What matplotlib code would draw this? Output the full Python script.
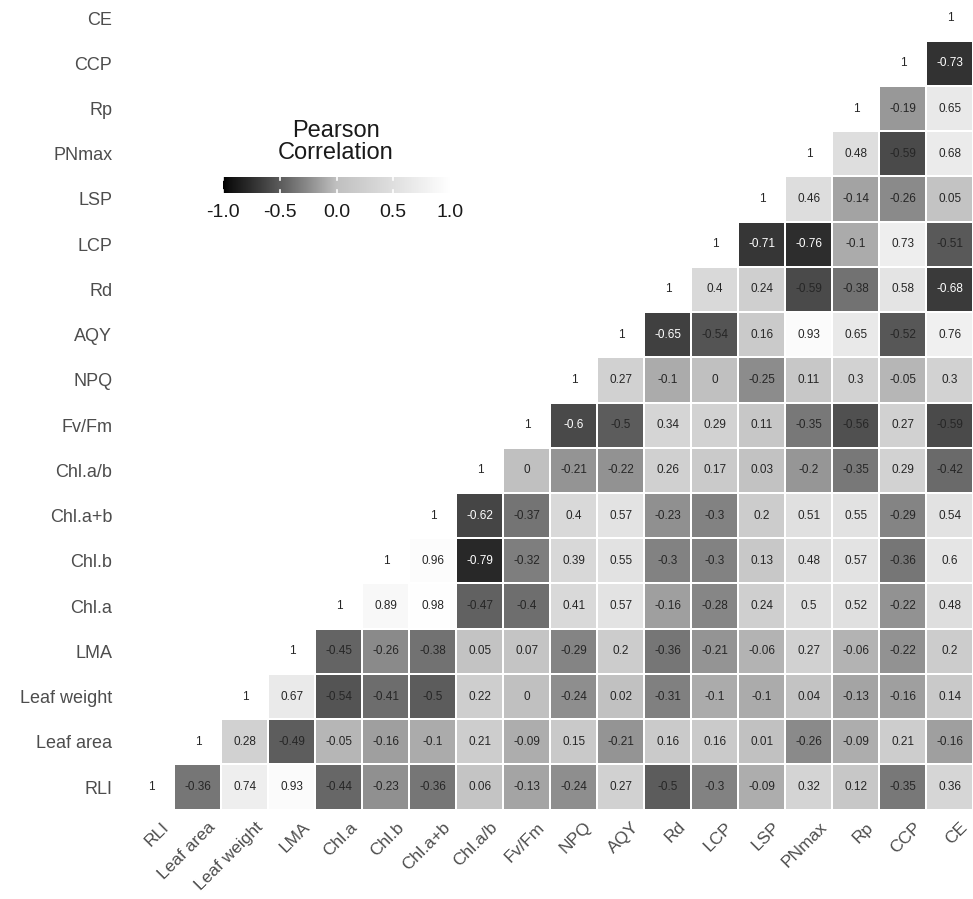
import matplotlib
matplotlib.use('Agg')
import matplotlib.pyplot as plt
import numpy as np
from matplotlib.colors import ListedColormap
from matplotlib.transforms import ScaledTranslation


plt.rcParams['font.family'] = ['Liberation Sans', 'DejaVu Sans']

variables = ['RLI', 'Leaf area', 'Leaf weight', 'LMA', 'Chl.a', 'Chl.b',
             'Chl.a+b', 'Chl.a/b', 'Fv/Fm', 'NPQ', 'AQY', 'Rd', 'LCP', 'LSP',
             'PNmax', 'Rp', 'CCP', 'CE']

# Upper triangle of the Pearson matrix, each row starting on the diagonal.
r_rli = [1, -0.36, 0.74, 0.93, -0.44, -0.23, -0.36, 0.06, -0.13, -0.24, 0.27,
         -0.5, -0.3, -0.09, 0.32, 0.12, -0.35, 0.36]
r_leaf_area = [1, 0.28, -0.49, -0.05, -0.16, -0.1, 0.21, -0.09, 0.15, -0.21,
               0.16, 0.16, 0.01, -0.26, -0.09, 0.21, -0.16]
r_leaf_weight = [1, 0.67, -0.54, -0.41, -0.5, 0.22, 0, -0.24, 0.02, -0.31,
                 -0.1, -0.1, 0.04, -0.13, -0.16, 0.14]
r_lma = [1, -0.45, -0.26, -0.38, 0.05, 0.07, -0.29, 0.2, -0.36, -0.21, -0.06,
         0.27, -0.06, -0.22, 0.2]
r_chla = [1, 0.89, 0.98, -0.47, -0.4, 0.41, 0.57, -0.16, -0.28, 0.24, 0.5,
          0.52, -0.22, 0.48]
r_chlb = [1, 0.96, -0.79, -0.32, 0.39, 0.55, -0.3, -0.3, 0.13, 0.48, 0.57,
          -0.36, 0.6]
r_chl_sum = [1, -0.62, -0.37, 0.4, 0.57, -0.23, -0.3, 0.2, 0.51, 0.55, -0.29,
             0.54]
r_chl_ratio = [1, 0, -0.21, -0.22, 0.26, 0.17, 0.03, -0.2, -0.35, 0.29, -0.42]
r_fvfm = [1, -0.6, -0.5, 0.34, 0.29, 0.11, -0.35, -0.56, 0.27, -0.59]
r_npq = [1, 0.27, -0.1, 0, -0.25, 0.11, 0.3, -0.05, 0.3]
r_aqy = [1, -0.65, -0.54, 0.16, 0.93, 0.65, -0.52, 0.76]
r_rd = [1, 0.4, 0.24, -0.59, -0.38, 0.58, -0.68]
r_lcp = [1, -0.71, -0.76, -0.1, 0.73, -0.51]
r_lsp = [1, 0.46, -0.14, -0.26, 0.05]
r_pnmax = [1, 0.48, -0.59, 0.68]
r_rp = [1, -0.19, 0.65]
r_ccp = [1, -0.73]
r_ce = [1]

legend_ticks = [-1.0, -0.5, 0.0, 0.5, 1.0]


def lightness_to_gray(lightness):
    """Convert CIELAB lightness to an sRGB grey level in 0..1."""
    lightness = np.asarray(lightness, dtype=float)
    y = np.where(lightness > 8, ((lightness + 16) / 116) ** 3, lightness / 903.3)
    return np.where(y <= 0.0031308, 12.92 * y, 1.055 * y ** (1 / 2.4) - 0.055)


def diverging_grays(n=512):
    # black -> grey -> white, interpolated in Lab lightness
    v = np.linspace(-1, 1, n)
    mid_l = 77.7
    lightness = np.where(v < 0, mid_l * (v + 1), mid_l + (100 - mid_l) * v)
    g = np.clip(lightness_to_gray(lightness), 0, 1)
    return ListedColormap(np.column_stack([g, g, g, np.ones(n)]))


rows = [r_rli, r_leaf_area, r_leaf_weight, r_lma, r_chla, r_chlb, r_chl_sum,
        r_chl_ratio, r_fvfm, r_npq, r_aqy, r_rd, r_lcp, r_lsp, r_pnmax, r_rp,
        r_ccp, r_ce]
n = len(variables)
corr = np.full((n, n), np.nan)
for i, row in enumerate(rows):
    corr[i, i:] = row

cmap = diverging_grays()

fig = plt.figure(figsize=(9.73, 8.99), dpi=100)
ax = fig.add_axes([0.1310, 0.0994, 0.8695, 0.9057])

edges = np.arange(n + 1) - 0.5
ax.pcolormesh(edges, edges, np.ma.masked_invalid(corr), cmap=cmap,
              vmin=-1, vmax=1, edgecolors='white', linewidth=1.3)

for i in range(n):
    for j in range(i, n):
        v = corr[i, j]
        ax.text(j, i, f'{v:g}', ha='center', va='center', fontsize=8.5,
                color='white' if v <= -0.6 else '#262626')

ax.set_xlim(-0.5, n - 0.5)
ax.set_ylim(-0.5, n - 0.5)
for s in ax.spines.values():
    s.set_visible(False)
ax.tick_params(length=0, labelsize=13, labelcolor='#4d4d4d')
ax.set_yticks(range(n))
ax.set_yticklabels(variables)
ax.tick_params(axis='y', pad=11)
ax.set_xticks(range(n))
ax.set_xticklabels(variables, rotation=45, ha='right', va='top',
                   rotation_mode='anchor', fontsize=12.5)
ax.tick_params(axis='x', pad=7)
shift = ScaledTranslation(10 / 100, 0, fig.dpi_scale_trans)
for lab in ax.get_xticklabels():
    lab.set_transform(lab.get_transform() + shift)

# horizontal legend bar
cax = fig.add_axes([223 / 973, 1 - 193 / 899, 227 / 973, 16 / 899])
cax.imshow(np.linspace(-1, 1, 300)[None, :], cmap=cmap, vmin=-1, vmax=1,
           aspect='auto', extent=(-1, 1, 0, 1))
for t in legend_ticks:
    cax.plot([t, t], [0, 0.2], color='white', lw=1.2)
    cax.plot([t, t], [0.8, 1], color='white', lw=1.2)
cax.set_xlim(-1, 1)
cax.set_ylim(0, 1)
cax.set_yticks([])
cax.set_xticks(legend_ticks)
cax.set_xticklabels([f'{t:.1f}' for t in legend_ticks])
cax.tick_params(axis='x', length=0, labelsize=14, labelcolor='#1a1a1a', pad=8)
for s in cax.spines.values():
    s.set_visible(False)
fig.text(336 / 973, 1 - 142 / 899, 'Pearson\nCorrelation', ha='center',
         va='center', fontsize=17, color='#1a1a1a', linespacing=1.0)

fig.savefig('out.png', dpi=100)
